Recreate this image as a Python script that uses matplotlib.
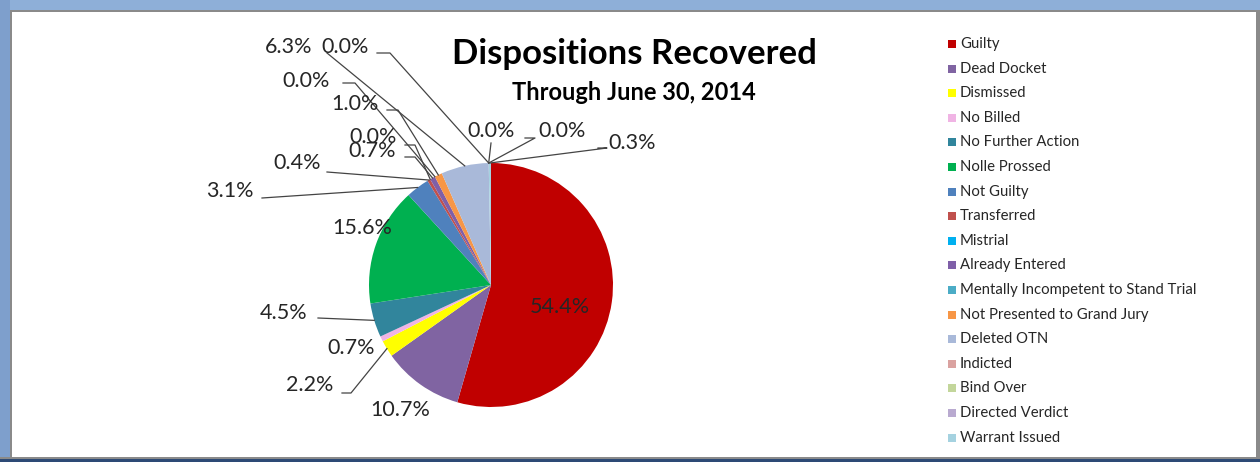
import numpy as np
import matplotlib.pyplot as plt
from matplotlib.patches import Rectangle

plt.rcParams['font.family'] = ['Lato', 'DejaVu Sans']

# dispositions, clockwise from 12 o'clock
categories = ['Guilty', 'Dead Docket', 'Dismissed', 'No Billed', 'No Further Action',
              'Nolle Prossed', 'Not Guilty', 'Transferred', 'Mistrial', 'Already Entered',
              'Mentally Incompetent to Stand Trial', 'Not Presented to Grand Jury',
              'Deleted OTN', 'Indicted', 'Bind Over', 'Directed Verdict', 'Warrant Issued']
percents = [54.4, 10.7, 2.2, 0.7, 4.5, 15.6, 3.1, 0.4, 0.0, 0.7, 0.0, 1.0, 6.3,
            0.0, 0.0, 0.0, 0.3]
colors = ['#C00000', '#8064A2', '#FFFF00', '#F0B4E4', '#31859C', '#00B050', '#4F81BD',
          '#C0504D', '#00B0F0', '#7F5FA8', '#4BACC6', '#F79646', '#A9B9D9', '#DAA2A0',
          '#C3D69B', '#B9AAD0', '#A5D2E0']

# label layout in image pixels: text centre, leader start (x0, x1, y) or None
label_pos = [(560, 307), (400, 410), (310, 385), (351, 348), (284, 313), (362, 228),
             (230, 191), (297, 163), (373, 137), (372, 151), (306, 81), (355, 104),
             (289, 47), (345, 47), (491, 131), (562, 131), (632, 143)]
leaders = [None, None, (342, 351, 393), None, (318, 318, 318), None,
           (262, 262, 198), (327, 327, 172), (405, 415, 145), (405, 415, 157),
           (343, 355, 83), (387, 398, 110), (327, 327, 53), (377, 390, 53),
           (491, 491, 143), (525, 535, 138), (598, 607, 148)]

W, H = 1260, 462
fig = plt.figure(figsize=(W / 100, H / 100), dpi=100)
ax = fig.add_axes([0, 0, 1, 1])

cx, cy, r = 491, H - 285, 122
ax.pie(percents, colors=colors, startangle=90, counterclock=False, center=(cx, cy),
       radius=r, frame=True, wedgeprops=dict(linewidth=0))
ax.set_xlim(0, W)
ax.set_ylim(0, H)
ax.set_aspect('equal')
ax.axis('off')

total = sum(percents)
cum = np.cumsum([0] + percents[:-1])
for i, p in enumerate(percents):
    mid = (cum[i] + p / 2) / total * 360
    theta = np.deg2rad(90 - mid)
    tx, ty = label_pos[i]
    ax.text(tx, H - ty, f'{p:.1f}%', ha='center', va='center', fontsize=15.5,
            color='#262626')
    if leaders[i] is not None:
        x0, x1, y = leaders[i]
        ex, ey = cx + r * np.cos(theta), cy + r * np.sin(theta)
        ax.plot([x0, x1, ex], [H - y, H - y, ey], color='#444444', lw=0.9)

# title
ax.text(634, H - 54, 'Dispositions Recovered', ha='center', va='center',
        fontsize=25, fontweight='bold')
ax.text(634, H - 92, 'Through June 30, 2014', ha='center', va='center',
        fontsize=17, fontweight='bold')

# legend
for i, name in enumerate(categories):
    y = 44 + i * 24.6
    ax.add_patch(Rectangle((948, H - y - 4), 8, 8, color=colors[i], lw=0))
    ax.text(960, H - y, name, ha='left', va='center', fontsize=10.7, color='#262626')

# window frame
ax.add_patch(Rectangle((0, H - 10), W, 10, color='#8EAFD8', lw=0))
ax.add_patch(Rectangle((0, 0), 10, H, color='#7E9FCC', lw=0))
ax.add_patch(Rectangle((10, 0), 2, H - 10, color='#8A8A8A', lw=0))
ax.add_patch(Rectangle((10, H - 12), W - 10, 2, color='#8A8A8A', lw=0))
ax.add_patch(Rectangle((W - 4, 0), 4, H - 10, color='#8A8A8A', lw=0))
ax.add_patch(Rectangle((0, 0), W, 3, color='#2D4A75', lw=0))
ax.add_patch(Rectangle((0, 3), W, 2, color='#8A8A8A', lw=0))

fig.savefig('out.png', dpi=100, facecolor='white')
